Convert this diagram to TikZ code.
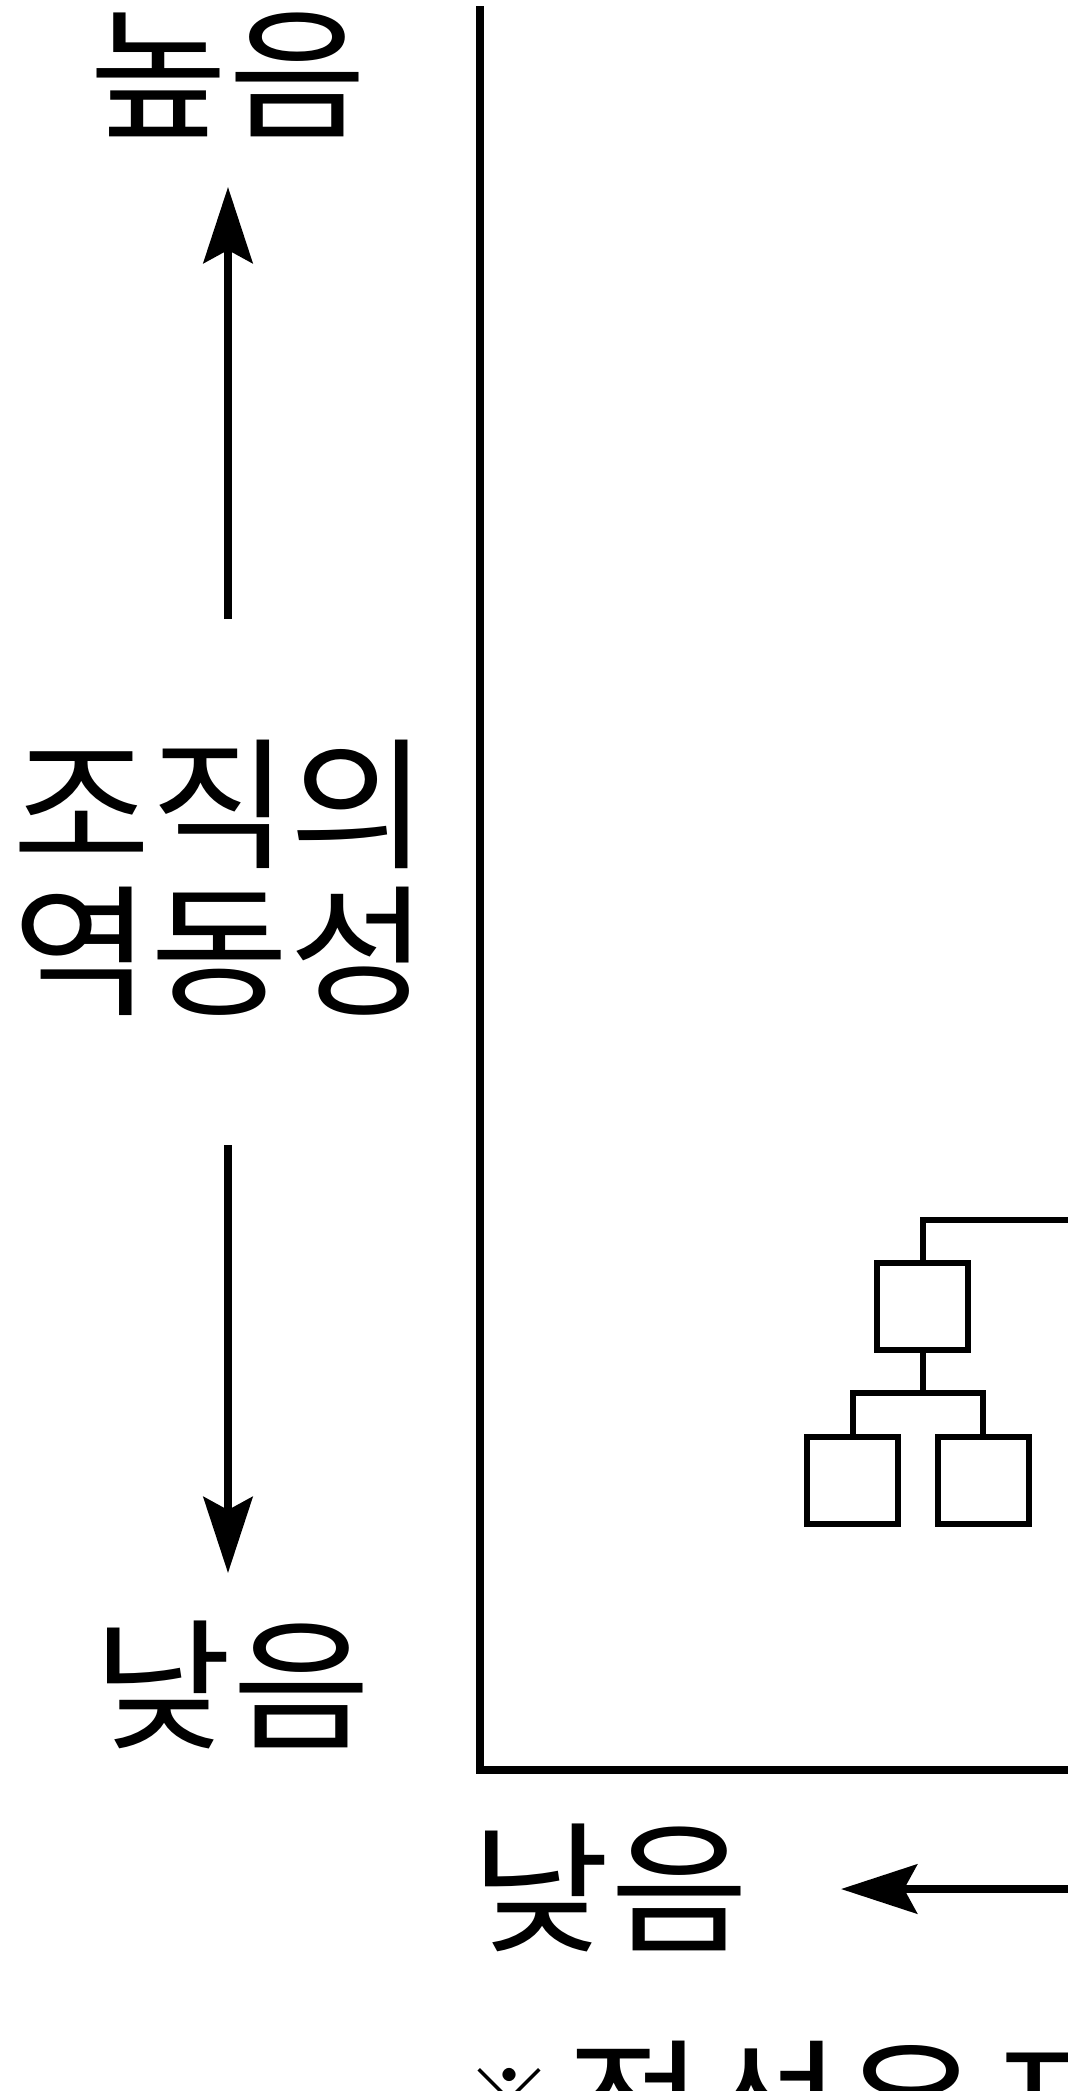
\documentclass[tikz,border=0pt]{standalone}
\usepackage{fontspec}
\setmainfont{Noto Sans CJK KR}
\newfontfamily\krwide[FakeStretch=1.06]{Noto Sans CJK KR}
\usetikzlibrary{arrows.meta}

\begin{document}
\begin{tikzpicture}[x=0.5pt, y=-0.5pt,
        lbl/.style = {inner sep=0pt, font=\krwide\fontsize{71pt}{73.5pt}\selectfont},
        org/.style = {draw, line width=3pt, minimum width=45.5pt, minimum height=43.5pt, inner sep=0pt},
        dir/.style = {line width=4pt, -{Stealth[length=38pt, width=24.5pt, inset=6.5pt]}}]
    \useasboundingbox (0,0) rectangle (1067,2100);

    % labels on the left
    \node[lbl] (high) at (228,75) {높음};
    \node[lbl, align=center] (dyn) at (220,878) {조직의\\역동성};
    \node[lbl] (low) at (232,1685) {낮음};
    \coordinate (upS) at (228,619);
    \coordinate (upE) at (228,187);
    \coordinate (dnS) at (228,1145);
    \coordinate (dnE) at (228,1573);
    \draw[dir] (upS) -- (upE);
    \draw[dir] (dnS) -- (dnE);

    % axes
    \coordinate (ytop) at (479.5,6);
    \coordinate (orig) at (479.5,1770);
    \coordinate (xend) at (1070,1770);
    \draw[line width=4pt] (ytop) -- (orig) -- (xend);

    % label under the axis
    \node[lbl] (lowx) at (610,1888) {낮음};
    \coordinate (ltS) at (1070,1889);
    \coordinate (ltE) at (841,1889);
    \draw[dir] (ltS) -- (ltE);

    % small tree
    \node[org] (top) at (922.5,1306.5) {};
    \node[org] (lft) at (852.5,1480.5) {};
    \node[org] (rgt) at (983,1480.5) {};
    \coordinate (fork) at (922.5,1393);
    \coordinate (treeR) at (1070,1220);
    \draw[line width=3pt] (top.north) |- (treeR);
    \draw[line width=3pt] (top.south) -- (fork);
    \draw[line width=3pt] (lft.north) |- (fork) -| (rgt.north);

    % note, cut off at the bottom
    \begin{scope}
        \clip (0,0) rectangle (1067,2090);
        \node[inner sep=0pt, anchor=base, font=\fontsize{44pt}{44pt}\selectfont] (mark) at (509,2133) {※};
        \node[lbl, anchor=base west] (note) at (565,2158) {점선은\hspace{4pt}표};
    \end{scope}
\end{tikzpicture}
\end{document}
